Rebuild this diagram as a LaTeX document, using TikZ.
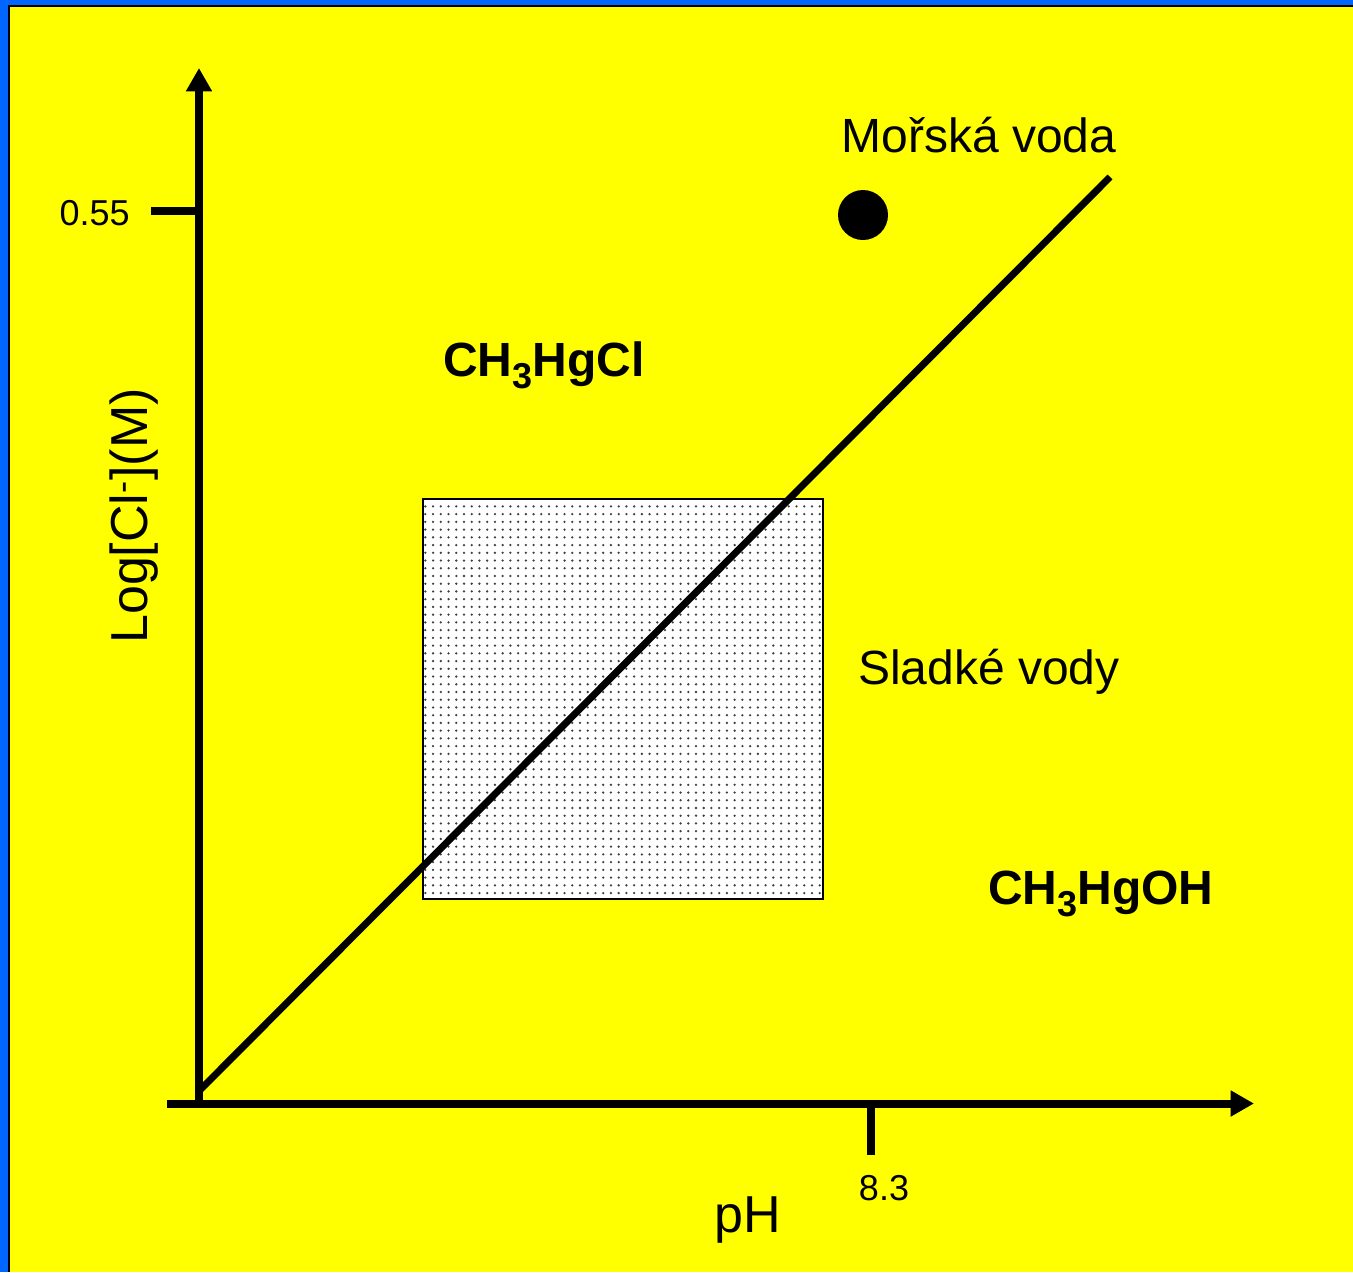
\documentclass[tikz,border=0pt]{standalone}
\usepackage{fontspec}
\setmainfont{Liberation Sans}
\usetikzlibrary{arrows.meta,patterns.meta}
\definecolor{bgblue}{HTML}{0066FF}
\definecolor{bgyellow}{HTML}{FFFF00}
\begin{document}
\begin{tikzpicture}[x=0.75pt,y=-0.75pt,
  axis/.style={line width=6pt,-{Triangle[length=17.5pt 0 0,width=18.5pt 0 0]}},
  tickmark/.style={line width=6pt},
  txt/.style={inner sep=0pt,font=\fontsize{36}{43}\selectfont},
  small/.style={inner sep=0pt,font=\fontsize{27}{32}\selectfont},
  axlbl/.style={inner sep=0pt,font=\fontsize{39}{47}\selectfont},
  species/.style={inner sep=0pt,font=\fontsize{36}{43}\selectfont\bfseries},
  region/.style={draw,line width=1.5pt,minimum width=300pt,minimum height=300pt,inner sep=0pt,
    preaction={fill=white},pattern={Dots[distance=5.8pt,radius=0.95pt]},pattern color=black!75},
  boundary/.style={line width=5.25pt}
]
\useasboundingbox (0,0) rectangle (1353,1272);
\fill[bgblue] (0,0) rectangle (1353,1272);
\fill[bgyellow] (9,6) rectangle (1353,1272);
\draw[line width=1.5pt] (9,1272) -- (9,6) -- (1353,6);

% coordinates
\coordinate (ybot) at (199,1107);
\coordinate (ytop) at (199,68);
\coordinate (xleft) at (167,1103.5);
\coordinate (xright) at (1254,1103.5);
\coordinate (ytick0) at (151,211);
\coordinate (ytick1) at (199,211);
\coordinate (xtick0) at (871,1103);
\coordinate (xtick1) at (871,1155);
\coordinate (lstart) at (199,1091);
\coordinate (lend) at (1110,177);

% shaded region
\node[region] (fresh box) at (623,699) {};

% axes
\draw[axis] (ybot) -- (ytop);
\draw[axis] (xleft) -- (xright);
\draw[tickmark] (ytick0) -- (ytick1);
\draw[tickmark] (xtick0) -- (xtick1);

% boundary line
\draw[boundary] (lstart) -- (lend);

% sea water point
\node[circle,fill=black,minimum size=37.5pt,inner sep=0pt] (sea pt) at (863,215) {};

% labels
\node[txt,anchor=base] (sea) at (979,152) {Mořská voda};
\node[txt,anchor=base] (fresh) at (989,684) {Sladké vody};
\node[species,anchor=base west] (hgcl) at (443,376) {CH\raisebox{-9pt}{\fontsize{27}{27}\selectfont 3}HgCl};
\node[species,anchor=base west] (hgoh) at (988,904) {CH\raisebox{-9pt}{\fontsize{27}{27}\selectfont 3}HgOH};
\node[small,anchor=base east] (y055) at (130,225) {0.55};
\node[small,anchor=base] (x83) at (884,1200) {8.3};
\node[axlbl,anchor=base] (ph) at (748,1232) {pH};
\node[axlbl,anchor=base,rotate=90] (ylab) at (147,516) {Log[Cl\textsuperscript{-}](M)};
\end{tikzpicture}
\end{document}
